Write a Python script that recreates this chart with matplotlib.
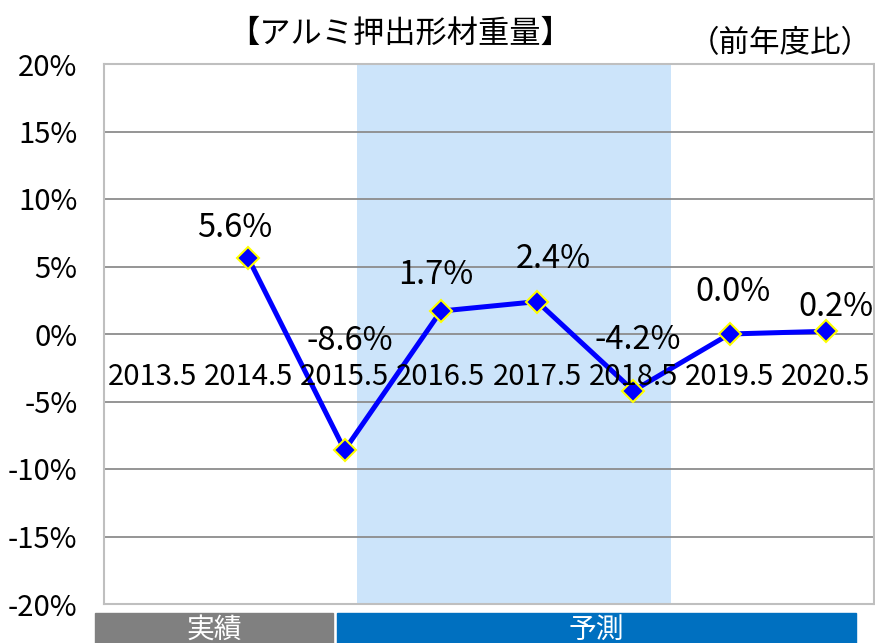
import matplotlib
matplotlib.use("Agg")
import matplotlib.pyplot as plt
from matplotlib.patches import Rectangle

plt.rcParams['font.family'] = ['Noto Sans CJK JP', 'DejaVu Sans']

categories = ["2013.5", "2014.5", "2015.5", "2016.5", "2017.5", "2018.5", "2019.5", "2020.5"]
values = [None, 5.6, -8.6, 1.7, 2.4, -4.2, 0.0, 0.2]
value_labels = ["", "5.6%", "-8.6%", "1.7%", "2.4%", "-4.2%", "0.0%", "0.2%"]
yticks = [20, 15, 10, 5, 0, -5, -10, -15, -20]
ytick_labels = ["20%", "15%", "10%", "5%", "0%", "-5%", "-10%", "-15%", "-20%"]
title = "【アルミ押出形材重量】"
subtitle = "（前年度比）"
band_labels = ["実績", "予測"]

# label offsets in points (style)
label_offsets = [(0, 0), (-10, 24.5), (3.6, 81), (-3.6, 28.8), (11.9, 32.9),
                 (2.9, 38.9), (2.5, 32.8), (7.2, 20)]

fig = plt.figure(figsize=(8.75, 6.43), dpi=100)
ax = fig.add_axes([104/875, 1-604/643, 770/875, 540/643])

x = list(range(len(categories)))
ax.set_xlim(-0.5, len(categories) - 0.5)
ax.set_ylim(-20, 20)

# forecast shading
ax.axvspan(2.13, 5.39, color="#CCE4FA", zorder=0, lw=0)

for t in yticks:
    if t not in (20, -20):
        ax.axhline(t, color="#8C8C8C", lw=1.3, zorder=1)

xs = [xi for xi, v in zip(x, values) if v is not None]
ys = [v for v in values if v is not None]
ax.plot(xs, ys, color="#0000FF", lw=3.6, zorder=3,
        marker="D", markersize=11, markerfacecolor="#0000FF",
        markeredgecolor="#FFFF00", markeredgewidth=1.5)

for xi, v, lab, off in zip(x, values, value_labels, label_offsets):
    if v is None:
        continue
    ax.annotate(lab, (xi, v), xytext=off, textcoords="offset points",
                ha="center", va="center_baseline", fontsize=23.5, color="#000000", zorder=4)

for xi, c in zip(x, categories):
    ax.annotate(c, (xi, 0), xytext=(0, -28.4), textcoords="offset points",
                ha="center", va="center_baseline", fontsize=21, color="#000000", zorder=4)

ax.set_yticks(yticks)
ax.set_yticklabels(ytick_labels, fontsize=21)
ax.tick_params(axis="y", length=0, pad=19)
ax.set_xticks([])
for s in ax.spines.values():
    s.set_color("#BFBFBF")
    s.set_linewidth(1.5)

fig.text(400/875, 1-30/643, title, ha="center", va="center_baseline", fontsize=22.5)
fig.text(780/875, 1-40/643, subtitle, ha="center", va="center_baseline", fontsize=22)

# bottom bands
fig.patches.append(Rectangle((95/875, 0), (333-95)/875, (643-613)/643,
                             transform=fig.transFigure, color="#808080", figure=fig))
fig.patches.append(Rectangle((337/875, 0), (856-337)/875, (643-613)/643,
                             transform=fig.transFigure, color="#0070C0", figure=fig))
fig.text(214/875, 1-630/643, band_labels[0], ha="center", va="center", fontsize=20, color="white")
fig.text(596/875, 1-630/643, band_labels[1], ha="center", va="center", fontsize=20, color="white")

fig.savefig("out.png", dpi=100)
